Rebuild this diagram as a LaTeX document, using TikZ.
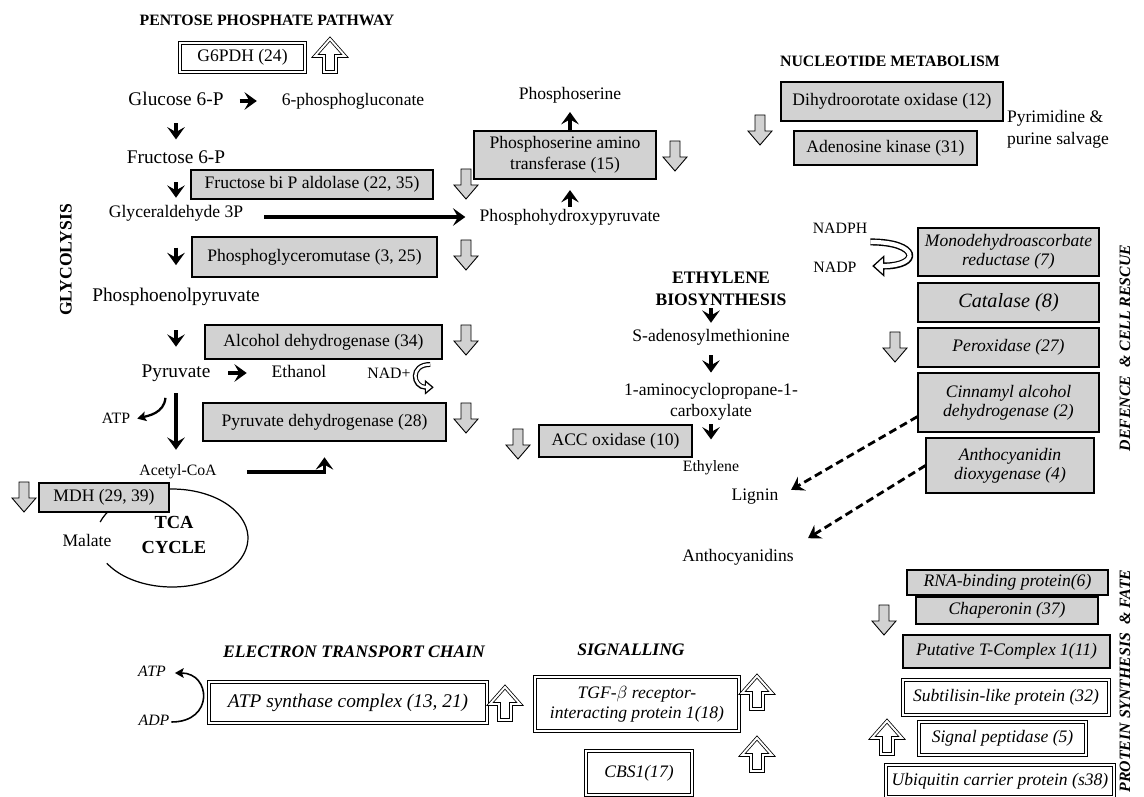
\documentclass[tikz,border=0pt]{standalone}
\usepackage{fontspec}
\setmainfont{Liberation Serif}
\usetikzlibrary{arrows.meta,calc,shadows}

\begin{document}
\begin{tikzpicture}[x=0.02cm,y=0.02cm,
  met/.style={inner sep=1pt,font=\fontsize{10}{12}\selectfont,text height=7pt,text depth=2pt},
  bmet/.style={inner sep=1pt,font=\fontsize{11}{13}\selectfont,text height=7.7pt,text depth=2.2pt},
  smet/.style={inner sep=1pt,font=\fontsize{9}{11}\selectfont,text height=6.3pt,text depth=1.8pt},
  ismet/.style={smet,font=\fontsize{9}{11}\selectfont\itshape},
  ttl/.style={inner sep=1pt,font=\fontsize{9}{11}\selectfont\bfseries},
  ittl/.style={inner sep=1pt,font=\fontsize{10}{12}\selectfont\bfseries\itshape},
  gbox/.style={draw,line width=0.6pt,fill=gray!35,align=center,inner sep=1pt,
    drop shadow={shadow xshift=0.8pt,shadow yshift=-0.8pt,opacity=0.25},font=\fontsize{10}{12}\selectfont},
  ibox/.style={gbox,font=\fontsize{10}{11}\selectfont\itshape},
  dbox/.style={draw,double,double distance=1.4pt,line width=0.5pt,fill=white,align=center,inner sep=1pt,
    drop shadow={shadow xshift=0.8pt,shadow yshift=-0.8pt,opacity=0.25},font=\fontsize{10}{11.5}\selectfont\itshape},
  flow/.style={line width=2pt,-{Stealth[length=7pt,width=10pt,inset=2.8pt]}},
  curveflow/.style={line width=0.9pt,-{Stealth[length=5pt,width=5.5pt,inset=1pt]}},
  dashflow/.style={line width=1.6pt,dash pattern=on 4.5pt off 2.5pt,-{Stealth[length=7pt,width=9pt,inset=2.5pt]}},
  hollowcurve/.style={line width=2.8pt,-{Triangle[length=5pt,width=8pt]},
    postaction={draw=white,line width=1.4pt,shorten >=1.2pt,-{Triangle[length=3.2pt,width=5pt]}}},
  bighollow/.style={line width=4pt,-{Triangle[length=7pt,width=12pt]},
    postaction={draw=white,line width=2.4pt,shorten >=1.3pt,-{Triangle[length=4.8pt,width=8.5pt]}}},
  pics/downarr/.style={code={\draw[fill=gray!35,line width=0.5pt] (-5,15) -- (5,15) -- (5,-1) -- (12,-1) -- (0,-15) -- (-12,-1) -- (-5,-1) -- cycle;}},
  pics/uparr/.style={code={\draw[fill=white,double,double distance=1.1pt,line width=0.45pt] (-6,-16) -- (6,-16) -- (6,0) -- (15,0) -- (0,17) -- (-15,0) -- (-6,0) -- cycle;}}]
  \useasboundingbox (0,0) rectangle (1144,-797);
  % Pentose phosphate pathway
  \node[ttl] (ppp) at (267,-20) {PENTOSE PHOSPHATE PATHWAY};
  \node[dbox,font=\fontsize{10}{12}\selectfont,minimum width=2.5cm,minimum height=0.58cm] (g6pdh) at (242.5,-57.5) {G6PDH (24)};
  \pic at (330,-56) {uparr};
  \node[bmet] (glc) at (176,-101) {Glucose 6-P};
  \node[met] (pglu) at (353,-101) {6-phosphogluconate};
  \draw[flow,shorten <=8pt,shorten >=13pt] (glc) -- (pglu);
  % Glycolysis
  \node[rotate=90,inner sep=1pt,font=\fontsize{10}{12}\selectfont\bfseries] (glyl) at (66,-260) {GLYCOLYSIS};
  \node[bmet] (fru) at (176,-159) {Fructose 6-P};
  \node[met] (gap) at (176,-213) {Glyceraldehyde 3P};
  \node[bmet] (pep) at (176,-297) {Phosphoenolpyruvate};
  \node[bmet] (pyr) at (176,-373) {Pyruvate};
  \draw[flow,shorten <=6.5pt,shorten >=5pt] (glc) -- (fru);
  \draw[flow,shorten <=7pt,shorten >=3pt] (fru) -- (gap);
  \draw[flow,shorten <=14pt,shorten >=12pt] (gap) -- (pep);
  \draw[flow,shorten <=12.7pt,shorten >=8.8pt] (pep) -- (pyr);
  \node[gbox,minimum width=4.84cm,minimum height=0.58cm] (fbpa) at (312,-184.5) {Fructose bi P aldolase (22, 35)};
  \node[gbox,minimum width=4.9cm,minimum height=0.8cm] (pgm) at (314.5,-257) {Phosphoglyceromutase (3, 25)};
  \node[gbox,minimum width=4.74cm,minimum height=0.68cm] (adh) at (323.5,-342) {Alcohol dehydrogenase (34)};
  \node[gbox,minimum width=4.86cm,minimum height=0.76cm] (pdh) at (324.5,-422) {Pyruvate dehydrogenase (28)};
  \foreach \y in {-184,-255,-340,-418} \pic at (466,\y) {downarr};
  \node[met] (etoh) at (299,-373) {Ethanol};
  \draw[flow,shorten <=9pt,shorten >=13pt] (pyr) -- (etoh);
  \node[smet] (nad) at (389,-375) {NAD+};
  \draw[hollowcurve] ([shift={(10pt,6pt)}]nad.east) .. controls +(-21,0) and +(-21,0) .. ([shift={(12pt,-7pt)}]nad.east);
  \node[smet] (atpg) at (116,-420) {ATP};
  \draw[curveflow,line width=1.3pt,shorten >=3pt] ([shift={(-6pt,-8pt)}]pyr.south) to[out=-95,in=15] (atpg.east);
  \node[smet] (acoa) at (178,-472) {Acetyl-CoA};
  \draw[flow,shorten <=5.4pt,shorten >=7.4pt] (pyr.south) -- (pyr.south |- acoa.north);
  \draw[flow,shorten <=16pt,shorten >=9pt] (acoa.east) -| (pdh.south);
  % TCA cycle
  \coordinate (tcac) at (172,-538);
  \draw[line width=0.7pt] (tcac) ++(-149:76 and 49) arc[start angle=-149,end angle=161,x radius=1.52cm,y radius=0.98cm];
  \node[gbox,minimum width=2.6cm,minimum height=0.58cm] (mdh) at (104,-497.5) {MDH (29, 39)};
  \pic at (24,-497) {downarr};
  \node[met] (mal) at (87,-542) {Malate};
  \node[align=center,inner sep=1pt,font=\fontsize{10.5}{14.7}\selectfont\bfseries] (tca) at (174,-535) {TCA\\CYCLE};
  % Serine branch
  \node[met] (phpyr) at (570,-217) {Phosphohydroxypyruvate};
  \draw[flow,shorten <=10.8pt,shorten >=7pt] (gap.east |- phpyr) -- (phpyr);
  \node[gbox,minimum width=3.64cm,minimum height=0.96cm] (psat) at (565,-155) {Phosphoserine amino\\transferase (15)};
  \node[met] (pser) at (570,-95) {Phosphoserine};
  \draw[flow,shorten >=6pt] (phpyr.north) -- (phpyr.north |- psat.south);
  \draw[flow,shorten >=4pt] (psat.north -| pser) -- (pser.south);
  \pic at (675,-156) {downarr};
  % Ethylene
  \node[align=center,inner sep=1pt,font=\fontsize{10}{12.5}\selectfont\bfseries] (eth) at (721,-289) {ETHYLENE\\BIOSYNTHESIS};
  \node[met] (sam) at (711,-337) {S-adenosylmethionine};
  \node[align=center,inner sep=1pt,font=\fontsize{10}{12}\selectfont] (accl) at (711,-402) {1-aminocyclopropane-1-\\carboxylate};
  \node[smet] (ethy) at (711,-468) {Ethylene};
  \draw[flow,shorten >=2.4pt] (eth.south -| sam.north) -- (sam.north);
  \draw[flow,shorten <=4.7pt,shorten >=5pt] (sam) -- (accl);
  \draw[flow,shorten <=1pt,shorten >=11pt] (accl) -- (ethy);
  \node[gbox,minimum width=3.06cm,minimum height=0.64cm] (acco) at (615.5,-441) {ACC oxidase (10)};
  \pic at (518,-444) {downarr};
  % Nucleotide metabolism
  \node[ttl] (nuc) at (890,-61) {NUCLEOTIDE METABOLISM};
  \node[gbox,minimum width=4.44cm,minimum height=0.78cm] (dhod) at (892,-101.5) {Dihydroorotate oxidase (12)};
  \node[gbox,minimum width=3.66cm,minimum height=0.68cm] (adk) at (885.5,-148) {Adenosine kinase (31)};
  \node[align=left,inner sep=1pt,font=\fontsize{10}{12.5}\selectfont] (salv) at (1058,-129) {Pyrimidine \&\\purine salvage};
  \pic at (760,-130) {downarr};
  % Defence and cell rescue
  \node[smet] (nadph) at (840,-230) {NADPH};
  \node[smet] (nadp) at (835,-269) {NADP};
  \draw[bighollow] ([shift={(0.6pt,-6.8pt)}]nadph.east) .. controls +(49,0) and +(49,0) .. ([shift={(7.7pt,1.7pt)}]nadp.east);
  \node[ibox,minimum width=3.62cm,minimum height=0.96cm] (mdar) at (1008.5,-252) {Monodehydroascorbate\\reductase (7)};
  \node[ibox,font=\fontsize{11.5}{13}\selectfont\itshape,minimum width=3.62cm,minimum height=0.78cm] (cat) at (1008.5,-302.5) {Catalase (8)};
  \node[ibox,minimum width=3.62cm,minimum height=0.78cm] (prx) at (1008.5,-347.5) {Peroxidase (27)};
  \node[ibox,minimum width=3.62cm,minimum height=1.18cm] (cad) at (1008.5,-402.5) {Cinnamyl alcohol\\dehydrogenase (2)};
  \node[ibox,minimum width=3.36cm,minimum height=1.1cm] (ados) at (1010,-465.5) {Anthocyanidin\\dioxygenase (4)};
  \pic at (895,-347) {downarr};
  \node[met] (lig) at (755,-496) {Lignin};
  \node[met] (anth) at (738,-557) {Anthocyanidins};
  \draw[dashflow,shorten >=7pt] ([yshift=-8pt]cad.west) -- (lig.east);
  \draw[dashflow] (ados.west) -- ([shift={(7pt,5pt)}]anth.north east);
  \node[rotate=90,inner sep=1pt,font=\fontsize{9}{11}\selectfont\bfseries\itshape] (defl) at (1125,-348) {DEFENCE \ \& CELL RESCUE};
  % Protein synthesis and fate
  \node[ibox,minimum width=4.02cm,minimum height=0.5cm] (rbp) at (1007.5,-582.5) {RNA-binding protein(6)};
  \node[ibox,minimum width=3.64cm,minimum height=0.54cm] (chap) at (1007,-610.5) {Chaperonin (37)};
  \node[ibox,minimum width=4.14cm,minimum height=0.66cm] (ptc) at (1006.5,-651.5) {Putative T-Complex 1(11)};
  \pic at (884,-620) {downarr};
  \node[dbox,minimum width=4.12cm,minimum height=0.7cm] (sub) at (1006,-697.5) {Subtilisin-like protein (32)};
  \node[dbox,minimum width=3.34cm,minimum height=0.66cm] (sigp) at (1002.5,-738.5) {Signal peptidase (5)};
  \node[dbox,minimum width=4.56cm,minimum height=0.64cm] (ubq) at (1000,-781) {Ubiquitin carrier protein (s38)};
  \pic at (887,-738) {uparr};
  \node[rotate=90,inner sep=1pt,font=\fontsize{9}{11}\selectfont\bfseries\itshape] (psfl) at (1125,-681) {PROTEIN SYNTHESIS \ \& FATE};
  % Electron transport chain
  \node[ittl] (etcl) at (354,-652) {ELECTRON TRANSPORT CHAIN};
  \node[dbox,font=\fontsize{11}{13}\selectfont\itshape,minimum width=5.56cm,minimum height=0.82cm] (atps) at (348,-702.5) {ATP synthase complex (13, 21)};
  \pic at (505,-704) {uparr};
  \node[ismet] (atpe) at (152,-673) {ATP};
  \node[ismet] (adp) at (154,-722) {ADP};
  \draw[curveflow,shorten >=4pt] (adp.east) .. controls +(43,0) and +(43,0) .. (atpe.east);
  % Signalling
  \node[ittl] (sigl) at (631,-650) {SIGNALLING};
  \node[dbox,minimum width=4.08cm,minimum height=1.08cm] (tgf) at (637,-704) {TGF-$\beta$ receptor-\\interacting protein 1(18)};
  \node[dbox,minimum width=2.12cm,minimum height=0.88cm] (cbs) at (639,-773) {CBS1(17)};
  \pic at (757,-693) {uparr};
  \pic at (757,-755) {uparr};
\end{tikzpicture}
\end{document}
